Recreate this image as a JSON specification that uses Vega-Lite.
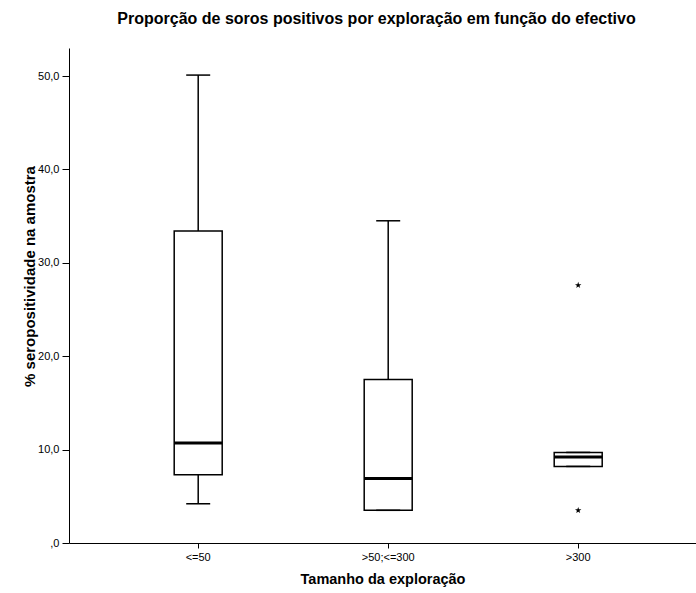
{
  "$schema": "https://vega.github.io/schema/vega-lite/v6.json",
  "autosize": "none",
  "width": 627,
  "height": 495,
  "padding": {"left": 69, "top": 48, "right": 0, "bottom": 50},
  "background": "white",
  "config": {
    "font": "Liberation Sans",
    "view": {"stroke": null}
  },
  "title": {
    "text": "Proporção de soros positivos por exploração em função do efectivo",
    "fontSize": 16,
    "fontWeight": "bold",
    "color": "black",
    "anchor": "middle",
    "dx": -6,
    "offset": 21
  },
  "datasets": {
    "boxes": [
      {"cat": "<=50", "lower": 4.2, "q1": 7.3, "median": 10.7, "q3": 33.4, "upper": 50.1},
      {"cat": ">50;<=300", "lower": 3.5, "q1": 3.5, "median": 6.9, "q3": 17.5, "upper": 34.5},
      {"cat": ">300", "lower": 8.2, "q1": 8.2, "median": 9.2, "q3": 9.7, "upper": 9.7}
    ],
    "outliers": [
      {"cat": ">300", "value": 27.6},
      {"cat": ">300", "value": 3.5}
    ]
  },
  "layer": [
    {
      "data": {"name": "boxes"},
      "mark": {"type": "rule", "color": "black", "strokeWidth": 1.5},
      "encoding": {
        "x": {
          "field": "cat",
          "type": "nominal",
          "sort": ["<=50", ">50;<=300", ">300"],
          "scale": {"domain": ["<=50", ">50;<=300", ">300"], "paddingInner": 0, "paddingOuter": 0.15, "align": 0.6},
          "axis": {
            "title": "Tamanho da exploração",
            "titleFontSize": 14.5,
            "titleFontWeight": "bold",
            "titleColor": "black",
            "titlePadding": 10,
            "labelFontSize": 11,
            "labelColor": "black",
            "labelAngle": 0,
            "labelPadding": 3,
            "domainColor": "black",
            "tickColor": "black",
            "tickSize": 5,
            "grid": false
          }
        },
        "y": {
          "field": "lower",
          "type": "quantitative",
          "scale": {"domain": [0, 53], "nice": false, "zero": true},
          "axis": {
            "title": "% seropositividade na amostra",
            "titleFontSize": 15,
            "titleFontWeight": "bold",
            "titleColor": "black",
            "titlePadding": 0,
            "titleY": 228,
            "values": [0, 10, 20, 30, 40, 50],
            "labelExpr": "datum.value == 0 ? ',0' : replace(format(datum.value, '.1f'), '.', ',')",
            "labelFontSize": 11,
            "labelColor": "black",
            "labelPadding": 3,
            "domainColor": "black",
            "tickColor": "black",
            "tickSize": 7,
            "grid": false
          }
        },
        "y2": {"field": "upper"}
      }
    },
    {
      "mark": {"type": "rule", "color": "black", "strokeWidth": 1},
      "encoding": {
        "y": {"datum": 53, "type": "quantitative"}
      }
    },
    {
      "data": {"name": "boxes"},
      "mark": {"type": "bar", "fill": "white", "stroke": "black", "strokeWidth": 1.5, "size": 48},
      "encoding": {
        "x": {"field": "cat", "type": "nominal", "sort": ["<=50", ">50;<=300", ">300"]},
        "y": {"field": "q1", "type": "quantitative"},
        "y2": {"field": "q3"}
      }
    },
    {
      "data": {"name": "boxes"},
      "mark": {"type": "tick", "color": "black", "size": 48, "thickness": 3, "opacity": 1},
      "encoding": {
        "x": {"field": "cat", "type": "nominal", "sort": ["<=50", ">50;<=300", ">300"]},
        "y": {"field": "median", "type": "quantitative"}
      }
    },
    {
      "data": {"name": "boxes"},
      "mark": {"type": "tick", "color": "black", "size": 24, "thickness": 1.5, "opacity": 1},
      "encoding": {
        "x": {"field": "cat", "type": "nominal", "sort": ["<=50", ">50;<=300", ">300"]},
        "y": {"field": "upper", "type": "quantitative"}
      }
    },
    {
      "data": {"name": "boxes"},
      "mark": {"type": "tick", "color": "black", "size": 24, "thickness": 1.5, "opacity": 1},
      "encoding": {
        "x": {"field": "cat", "type": "nominal", "sort": ["<=50", ">50;<=300", ">300"]},
        "y": {"field": "lower", "type": "quantitative"}
      }
    },
    {
      "data": {"name": "outliers"},
      "mark": {
        "type": "point",
        "shape": "M0,-1L0.235,-0.324L0.951,-0.309L0.38,0.124L0.588,0.809L0,0.4L-0.588,0.809L-0.38,0.124L-0.951,-0.309L-0.235,-0.324Z",
        "filled": true,
        "color": "black",
        "size": 45,
        "opacity": 1
      },
      "encoding": {
        "x": {"field": "cat", "type": "nominal", "sort": ["<=50", ">50;<=300", ">300"]},
        "y": {"field": "value", "type": "quantitative"}
      }
    }
  ]
}
